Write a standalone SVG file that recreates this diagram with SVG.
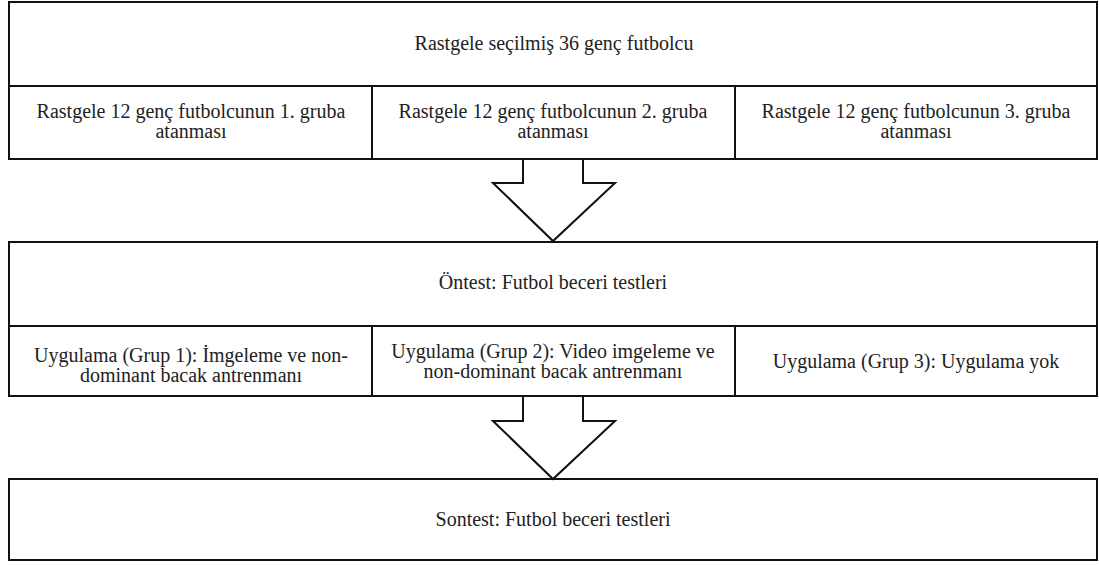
<svg xmlns="http://www.w3.org/2000/svg" width="1099" height="565" viewBox="0 0 1099 565">
<style>
.b{fill:#fff;stroke:#111;stroke-width:2}
.l{stroke:#111;stroke-width:2;fill:none}
.t{font-family:"Liberation Serif",serif;font-size:20px;fill:#222;text-anchor:middle}
</style>
<rect width="1099" height="565" fill="#fff"/>
<g id="n_top">
<rect class="b" x="9" y="2" width="1088" height="157"/>
<line class="l" x1="9" y1="86" x2="1097" y2="86"/>
<line class="l" x1="372" y1="86" x2="372" y2="159"/>
<line class="l" x1="735" y1="86" x2="735" y2="159"/>
<text class="t" x="554" y="50">Rastgele seçilmiş 36 genç futbolcu</text>
<text class="t" x="191" y="118">Rastgele 12 genç futbolcunun 1. gruba</text>
<text class="t" x="191" y="138">atanması</text>
<text class="t" x="553" y="118">Rastgele 12 genç futbolcunun 2. gruba</text>
<text class="t" x="553" y="138">atanması</text>
<text class="t" x="916" y="118">Rastgele 12 genç futbolcunun 3. gruba</text>
<text class="t" x="916" y="138">atanması</text>
</g>
<g id="n_mid">
<rect class="b" x="9" y="242" width="1088" height="154"/>
<line class="l" x1="9" y1="326" x2="1097" y2="326"/>
<line class="l" x1="372" y1="326" x2="372" y2="396"/>
<line class="l" x1="735" y1="326" x2="735" y2="396"/>
<text class="t" x="553" y="289">Öntest: Futbol beceri testleri</text>
<text class="t" x="191" y="362">Uygulama (Grup 1): İmgeleme ve non-</text>
<text class="t" x="191" y="382">dominant bacak antrenmanı</text>
<text class="t" x="553" y="358">Uygulama (Grup 2): Video imgeleme ve</text>
<text class="t" x="553" y="378">non-dominant bacak antrenmanı</text>
<text class="t" x="916" y="368">Uygulama (Grup 3): Uygulama yok</text>
</g>
<g id="n_bot">
<rect class="b" x="9" y="479" width="1088" height="81"/>
<text class="t" x="553" y="526">Sontest: Futbol beceri testleri</text>
</g>
<g id="connectors">
<polyline class="l" points="523,159 523,183 493,183 553,241 615,183 583,183 583,159"/>
<polyline class="l" points="523,396 523,421 493,421 553,479 615,421 583,421 583,396"/>
</g>
</svg>
